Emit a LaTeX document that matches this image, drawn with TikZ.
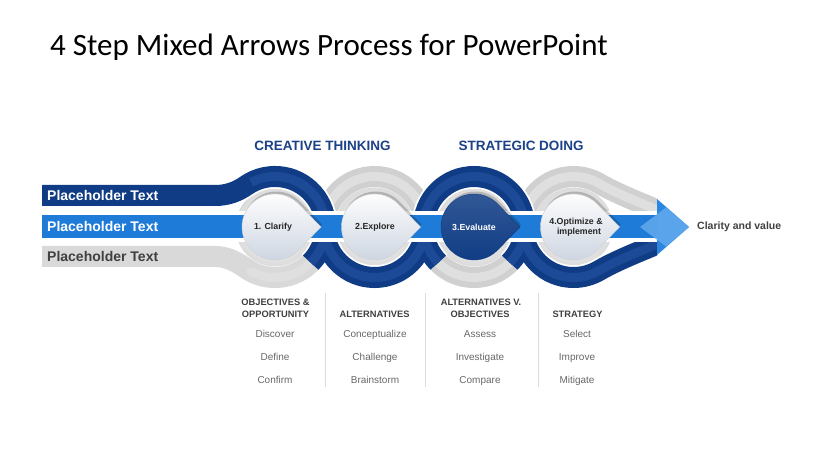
\documentclass[tikz,border=0pt]{standalone}
\usepackage{fontspec}
\setmainfont{Liberation Sans}
\newfontfamily\titlefont{Carlito}
\usetikzlibrary{calc}
\definecolor{navy}{HTML}{0F3C84}
\definecolor{navyhi}{HTML}{1C4A96}
\definecolor{barblue}{HTML}{1F7BD8}
\definecolor{bandgray}{HTML}{D0D0D0}
\definecolor{grayhi}{HTML}{DFDFDF}
\definecolor{bargray}{HTML}{D9D9D9}
\definecolor{headblue}{HTML}{1C4187}
\definecolor{colhead}{HTML}{404040}
\definecolor{itemgray}{HTML}{686868}
\definecolor{sepgray}{HTML}{DCDCDC}
\definecolor{droplow}{HTML}{CDD5E1}
\definecolor{arrowlight}{HTML}{62AAEE}
\definecolor{arrowblue}{HTML}{2A86DE}

\newcommand\pathGA{(42,256.5) -- (215,256.5) .. controls (228,256.5) and (237.8,262.7) .. (246.0,268.4) arc[start angle=125,end angle=0,radius=50.5]}
\newcommand\pathGB{(c2) ++(180:50.5) arc[start angle=180,end angle=360,radius=50.5]}
\newcommand\pathGC{(c3) ++(180:50.5) arc[start angle=180,end angle=0,radius=50.5]}
\newcommand\pathGD{(c4) ++(180:50.5) arc[start angle=180,end angle=300,radius=50.5] .. controls +(30:25) and +(205:18) .. (664,213)}
\newcommand\pathDA{(42,195.5) -- (215,195.5) .. controls (228,195.5) and (237.8,191.3) .. (246.0,185.6) arc[start angle=235,end angle=405,radius=50.5]}
\newcommand\pathDB{(c2) ++(180:50.5) arc[start angle=180,end angle=0,radius=50.5]}
\newcommand\pathDC{(c3) ++(135:50.5) arc[start angle=135,end angle=405,radius=50.5]}
\newcommand\pathDD{(c4) ++(180:50.5) arc[start angle=180,end angle=60,radius=50.5] .. controls +(-30:25) and +(155:18) .. (664,241)}
\newcommand\hlGA{(c1) ++(118:50.5) arc[start angle=118,end angle=0,radius=50.5]}
\newcommand\hlDA{(c1) ++(242:50.5) arc[start angle=242,end angle=405,radius=50.5]}

\newcommand\dropshape{(46,0) -- (-44.2:33) arc[start angle=-44.2,end angle=-315.8,radius=33] -- cycle}

\tikzset{
  band/.style={line width=21pt},
  grayband/.style={band, draw=bandgray},
  darkband/.style={band, draw=navy},
  underlay/.style={draw=white, line width=24.5pt},
  grayhl/.style={draw=grayhi, line width=9pt, line cap=round},
  darkhl/.style={draw=navyhi, line width=9pt},
  halo/.style={inner color=white, outer color=black!14},
  droplite/.style={top color=white, bottom color=droplow, draw=black!18, line width=0.4pt},
  dropdark/.style={top color=navy!85!white, bottom color=navy, draw=navy, line width=0.4pt},
  dropshadow/.style={fill=black, opacity=.2},
  steptext/.style={font=\bfseries\fontsize{8.8}{10.5}\selectfont, text=black!85, align=center, inner sep=0pt},
  phtext/.style={font=\bfseries\fontsize{14}{16}\selectfont, anchor=west, inner sep=0pt},
  headtext/.style={font=\bfseries\fontsize{13.5}{16}\selectfont, text=headblue, inner sep=0pt},
  colheadtext/.style={font=\bfseries\fontsize{9.3}{11}\selectfont, text=colhead, inner sep=0pt, anchor=base},
  itemtext/.style={font=\fontsize{10}{12}\selectfont, text=itemgray, inner sep=0pt, anchor=base},
  sepline/.style={draw=sepgray, line width=0.8pt}
}

\begin{document}
\begin{tikzpicture}[x=1pt,y=-1pt]
\useasboundingbox[fill=white] (0,0) rectangle (835,470);

\coordinate (c1) at (275,227);
\coordinate (c2) at (374.5,227);
\coordinate (c3) at (474,227);
\coordinate (c4) at (573.5,227);

% title
\node[anchor=base west, font=\titlefont\fontsize{31}{36}\selectfont, inner sep=0pt] (title) at (50,56) {4 Step Mixed Arrows Process for PowerPoint};

% halos inside the rings
\foreach \c in {c1,c2,c3,c4} \shade[halo] (\c) circle[radius=39.5];

% bands
\begin{scope}
\clip (0,0) rectangle (657,470);
\draw[band, draw=bargray] \pathGA;
\draw[grayband] \pathGB;
\draw[grayband] \pathGC;
\draw[grayband] \pathGD;
\draw[grayhl] \hlGA; \draw[grayhl] \pathGB; \draw[grayhl] \pathGC; \draw[grayhl] \pathGD;
\draw[underlay] \pathDA; \draw[underlay] \pathDB; \draw[underlay] \pathDC; \draw[underlay] \pathDD;
\draw[darkband] \pathDA; \draw[darkband] \pathDB; \draw[darkband] \pathDC; \draw[darkband] \pathDD;
\draw[darkhl] \hlDA; \draw[darkhl] \pathDB; \draw[darkhl] \pathDC; \draw[darkhl] \pathDD;
\end{scope}

% middle bar with white borders and arrow
\fill[white] (213,211) rectangle (657,242.5);
\fill[barblue] (42,215) rectangle (657,238.5);
\fill[arrowblue] (657,199) -- (689,227) -- (657,255) -- cycle;
\fill[arrowlight, opacity=.85] (640,227) -- (666,207.5) -- (689,227) -- (666,246.5) -- cycle;

% teardrops
\foreach \c in {c1,c2,c3,c4} \fill[dropshadow, shift={(\c)}, xshift=1.2pt, yshift=2.5pt] \dropshape;
\shade[droplite, shift={(c1)}] \dropshape;
\shade[droplite, shift={(c2)}] \dropshape;
\shade[dropdark, shift={(c3)}] \dropshape;
\shade[droplite, shift={(c4)}] \dropshape;

\node[steptext] (s1) at (273,227) {1. Clarify};
\node[steptext] (s2) at (375,227) {2.Explore};
\node[steptext, text=white] (s3) at (474,227) {3.Evaluate};
\node[steptext] (s4) at (576,227) {4.Optimize \&\\\hspace*{6pt}implement};

% placeholder texts
\node[phtext, text=white] (p1) at (47,195.5) {Placeholder Text};
\node[phtext, text=white] (p2) at (47,226.8) {Placeholder Text};
\node[phtext, text=colhead] (p3) at (47,256.5) {Placeholder Text};

\node[anchor=west, font=\bfseries\fontsize{10.5}{12}\selectfont, text=black!75, inner sep=0pt] (cv) at (697,227) {Clarity and value};

% headers
\node[headtext] (h1) at (322.5,146) {CREATIVE THINKING};
\node[headtext] (h2) at (521,146) {STRATEGIC DOING};

% columns
\draw[sepline] (325,293) -- (325,387);
\draw[sepline] (425,293) -- (425,387);
\draw[sepline] (538,293) -- (538,387);

\node[colheadtext] (a1) at (275.5,305.5) {OBJECTIVES \&};
\node[colheadtext] (a2) at (275.5,317.5) {OPPORTUNITY};
\node[colheadtext] (b1) at (374.5,317.5) {ALTERNATIVES};
\node[colheadtext] (e1) at (481,305.5) {ALTERNATIVES V.};
\node[colheadtext] (e2) at (480,317.5) {OBJECTIVES};
\node[colheadtext] (f1) at (577.5,317.5) {STRATEGY};

\node[itemtext] (i11) at (275,337.5) {Discover};
\node[itemtext] (i12) at (275,360.5) {Define};
\node[itemtext] (i13) at (275,383.5) {Confirm};
\node[itemtext] (i21) at (375,337.5) {Conceptualize};
\node[itemtext] (i22) at (375,360.5) {Challenge};
\node[itemtext] (i23) at (375,383.5) {Brainstorm};
\node[itemtext] (i31) at (480,337.5) {Assess};
\node[itemtext] (i32) at (480,360.5) {Investigate};
\node[itemtext] (i33) at (480,383.5) {Compare};
\node[itemtext] (i41) at (577,337.5) {Select};
\node[itemtext] (i42) at (577,360.5) {Improve};
\node[itemtext] (i43) at (577,383.5) {Mitigate};
\end{tikzpicture}
\end{document}
